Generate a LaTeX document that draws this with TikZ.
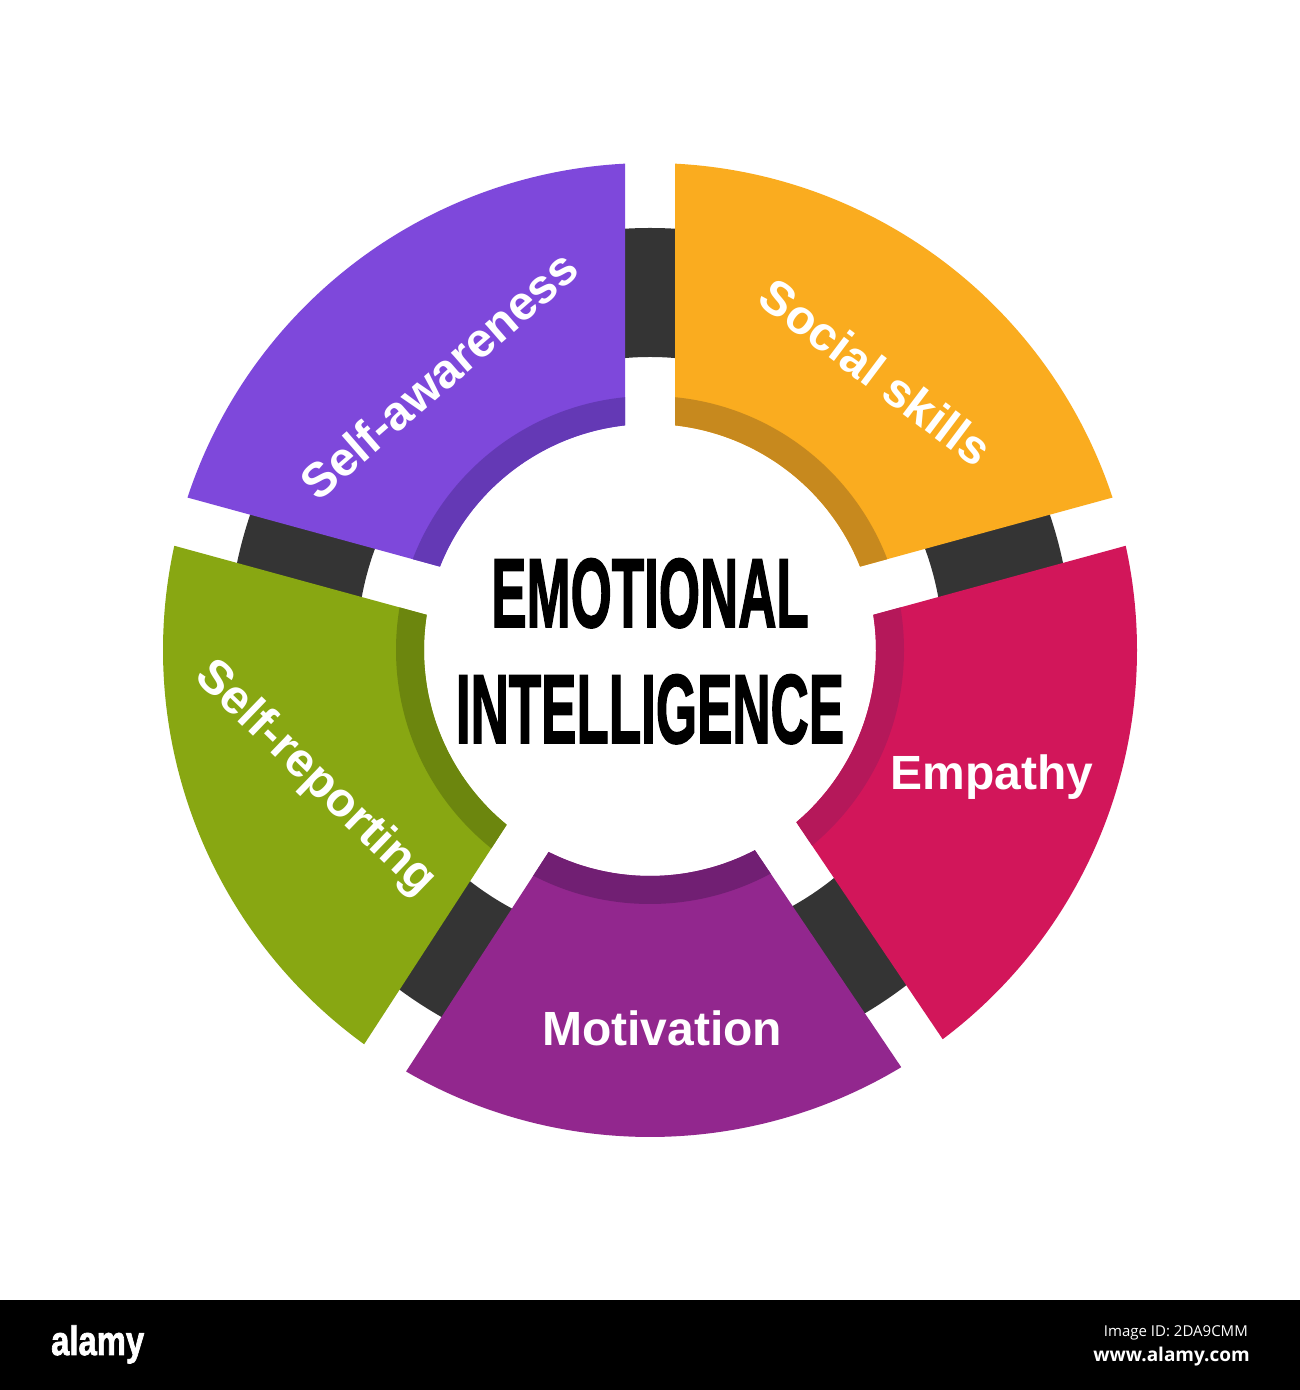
\documentclass[tikz,border=0pt]{standalone}
\usepackage{fontspec}
\usepackage{graphicx}
\setmainfont{Liberation Sans}
\newfontfamily\titlefont{Liberation Sans}[BoldFeatures={FakeBold=2}]
\newfontfamily\osans{Open Sans}
\definecolor{ringc}{HTML}{343434}
\definecolor{cSoc}{HTML}{FAAC1F}
\definecolor{cSocD}{HTML}{C7891E}
\definecolor{cAwa}{HTML}{7E48DB}
\definecolor{cAwaD}{HTML}{6439B5}
\definecolor{cRep}{HTML}{88A712}
\definecolor{cRepD}{HTML}{6C860E}
\definecolor{cMot}{HTML}{92278E}
\definecolor{cMotD}{HTML}{711F73}
\definecolor{cEmp}{HTML}{D2165A}
\definecolor{cEmpD}{HTML}{B5185A}
\newcommand\segpath[2]{({#1+2.943}:487) arc[start angle={#1+2.943}, end angle={#2-2.943}, radius=487] -- ({#2-6.351}:226) arc[start angle={#2-6.351}, end angle={#1+6.351}, radius=226] -- cycle}
\newcommand\segment[4]{%
  \fill[#3] \segpath{#1}{#2};
  \begin{scope}
    \clip \segpath{#1}{#2};
    \fill[#4] (0,0) circle (254);
  \end{scope}}
\tikzset{
  lbl/.style={text=white, inner sep=0pt, font=\bfseries\fontsize{48}{56}\selectfont},
  ttl/.style={text=black, inner sep=0pt, anchor=base, font=\titlefont\bfseries\fontsize{98}{100}\selectfont},
  bartxt/.style={text=white, inner sep=0pt}
}
\begin{document}
\begin{tikzpicture}[x=1pt,y=1pt]
\useasboundingbox (0,0) rectangle (1300,1390);
\fill[white] (0,0) rectangle (1300,1390);
\begin{scope}[shift={(650,740)}]
  \fill[ringc, even odd rule] (0,0) circle (422) (0,0) circle (293);
  \segment{15.3}{90}{cSoc}{cSocD}
  \segment{90}{164.7}{cAwa}{cAwaD}
  \segment{164.7}{237}{cRep}{cRepD}
  \segment{237}{304}{cMot}{cMotD}
  \segment{304}{375.3}{cEmp}{cEmpD}
\end{scope}
% segment labels
\node[lbl, rotate=41] (awa) at (439,1015) {Self-awareness};
\node[lbl, rotate=-37] (soc) at (876,1018) {Social skills};
\node[lbl, rotate=-44] (rep) at (315,611) {Self-reporting};
\node[lbl, anchor=base] (emp) at (992,600) {Empathy};
\node[lbl, anchor=base] (mot) at (662,344) {Motivation};
% centre title
\node[ttl] (t1) at (650,763) {\scalebox{0.54}[1]{EMOTIONAL}};
\node[ttl] (t2) at (650,647) {\scalebox{0.54}[1]{INTELLIGENCE}};
% bottom bar
\fill[black] (0,0) rectangle (1300,90);
\node[bartxt, anchor=base west] (logo) at (51,35) {\titlefont\bfseries\fontsize{41}{41}\selectfont\scalebox{0.8}[1]{alamy}};
\node[bartxt, anchor=base east] (imgid) at (1248,53) {\osans\fontsize{15}{15}\selectfont Image ID: 2DA9CMM};
\node[bartxt, anchor=base east] (www) at (1250,28) {\osans\bfseries\fontsize{19}{19}\selectfont www.alamy.com};
\end{tikzpicture}
\end{document}
